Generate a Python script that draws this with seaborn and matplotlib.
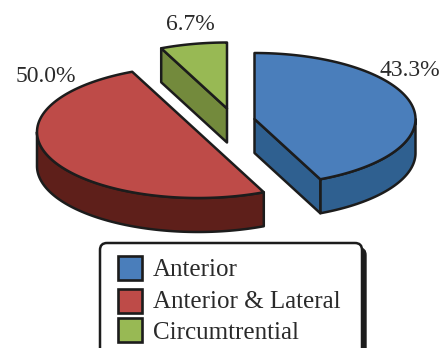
import numpy as np
import matplotlib
matplotlib.use("Agg")
import matplotlib.pyplot as plt
from matplotlib.patches import Polygon, FancyBboxPatch, Rectangle
import seaborn as sns

# Share of cases per category, in percent
categories = ["Anterior", "Anterior & Lateral", "Circumtrential"]
shares = [43.3, 50.0, 6.7]
value_labels = ["43.3%", "50.0%", "6.7%"]
top_colors = ["#4A7EBB", "#BE4B48", "#98B954"]
side_colors = ["#2F6090", "#5E1F1A", "#738A3C"]

sns.set_theme(style="white")
plt.rcParams["font.family"] = ["Liberation Serif", "DejaVu Serif"]
palette = sns.color_palette(top_colors)
side_palette = sns.color_palette(side_colors)

INK = "#1C1C1C"
RX, RY, DEPTH = 161, 66, 34
# Exploded centre of each slice's top face, in figure pixels
centres = [(254.5, 119), (198, 132), (227, 108.5)]
label_xy = [(410, 71), (46, 76), (190, 25)]

fig = plt.figure(figsize=(4.44, 3.48), dpi=100)
ax = fig.add_axes([0, 0, 1, 1])
ax.set_xlim(0, 444)
ax.set_ylim(348, 0)
ax.axis("off")


def rim(c, t0, t1, dy=0):
    t = np.radians(np.linspace(t0, t1, 120))
    return np.column_stack([c[0] + RX * np.sin(t), c[1] + dy - RY * np.cos(t)])


def poly(pts, color, z):
    ax.add_patch(Polygon(pts, closed=True, facecolor=color, edgecolor=INK,
                         linewidth=1.8, joinstyle="round", zorder=z))


# Slice angles run clockwise from twelve o'clock
edges = np.concatenate([[0], np.cumsum(shares) / np.sum(shares) * 360])

for i, (c, t0, t1) in enumerate(zip(centres, edges[:-1], edges[1:])):
    apex = np.array(c, dtype=float)
    down = np.array([0, DEPTH])
    # Outer wall: the part of the rim facing the viewer
    lo, hi = max(t0, 90), min(t1, 270)
    if lo < hi:
        arc = rim(c, lo, hi)
        poly(np.vstack([arc, (arc + down)[::-1]]), side_palette[i], 2 + i)
    # Cut faces that turn toward the viewer
    for t, visible in ((t0, 180 < t0 < 360), (t1, 0 < t1 < 180)):
        if visible:
            p = rim(c, t, t)[0]
            poly([apex, p, p + down, apex + down], side_palette[i], 2 + i)
    top = np.vstack([[apex], rim(c, t0, t1)])
    poly(top, palette[i], 6)

for (x, y), text in zip(label_xy, value_labels):
    ax.text(x, y, text, fontsize=17, color="#2A2A2A", ha="center",
            va="center", zorder=8)

# Legend box runs past the lower edge of the figure
ax.add_patch(FancyBboxPatch((110, 248), 256, 130,
                            boxstyle="round,pad=0,rounding_size=7",
                            facecolor="#1C1C1C", edgecolor="#1C1C1C",
                            linewidth=1.0, zorder=9))
ax.add_patch(FancyBboxPatch((100, 243), 262, 130,
                            boxstyle="round,pad=0,rounding_size=7",
                            facecolor="white", edgecolor=INK,
                            linewidth=1.8, zorder=10))
for i, (name, sy, ty) in enumerate(zip(categories, (255.5, 289, 318),
                                       (270, 302.5, 333))):
    ax.add_patch(Rectangle((117.5, sy), 24, 24, facecolor=palette[i],
                           edgecolor=INK, linewidth=1.9, zorder=11))
    ax.text(153, ty, name, fontsize=18, color="#2A2A2A", ha="left",
            va="center", zorder=11)

fig.savefig("out.png", dpi=100)
